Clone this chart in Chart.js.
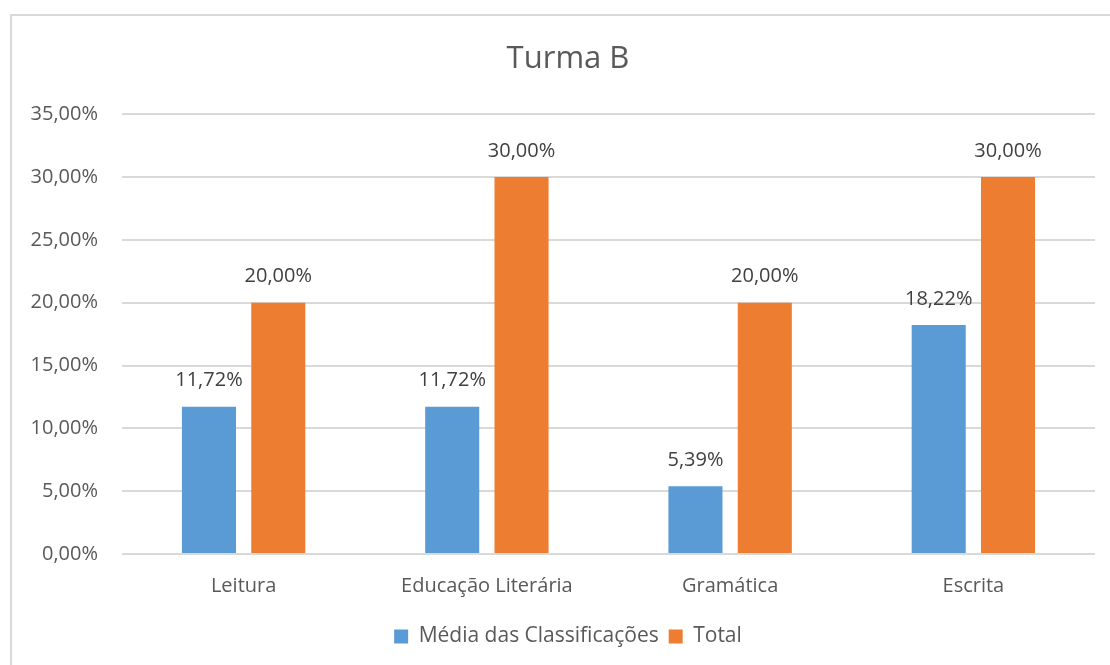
<!DOCTYPE html>
<html>
<head>
<meta charset="utf-8">
<script src="https://cdn.jsdelivr.net/npm/chart.js@4/dist/chart.umd.min.js"></script>
<style>
  html, body { margin: 0; padding: 0; background: #fff; overflow: hidden; }
  #wrap { position: relative; width: 1110px; height: 665px; overflow: hidden; }
  #frame { position: absolute; left: 10px; top: 14px; width: 1200px; height: 800px; border: 2px solid #d9d9d9; box-sizing: border-box; }
  canvas { position: absolute; left: 0; top: 0; }
</style>
</head>
<body>
<div id="wrap">
  <div id="frame"></div>
  <canvas id="chart" width="1110" height="665"></canvas>
</div>
<script>
// dados do gráfico
const categorias = ["Leitura", "Educação Literária", "Gramática", "Escrita"];
const mediaClassificacoes = [11.72, 11.72, 5.39, 18.22];
const total = [20, 30, 20, 30];
const tituloGrafico = "Turma B";

const corTexto = "#595959";
const fonte = "'Open Sans', 'DejaVu Sans', sans-serif";

function formatarPct(v) {
  return v.toFixed(2).replace(".", ",") + "%";
}

// o gráfico original é mais largo que a captura: centra título e legenda como lá
const centrarBlocos = {
  id: "centrarBlocos",
  afterLayout(chart) {
    if (chart.titleBlock) chart.titleBlock.right = 1136;
    if (chart.legend) chart.legend.right = 1136;
  },
};

// escreve o valor por cima de cada barra
const rotulosBarras = {
  id: "rotulosBarras",
  afterDatasetsDraw(chart) {
    const ctx = chart.ctx;
    ctx.save();
    ctx.font = "20px " + fonte;
    ctx.fillStyle = "#404040";
    ctx.textAlign = "center";
    ctx.textBaseline = "middle";
    chart.data.datasets.forEach((ds, i) => {
      const meta = chart.getDatasetMeta(i);
      meta.data.forEach((bar, j) => {
        ctx.fillText(formatarPct(ds.data[j]), bar.x, bar.y - 26);
      });
    });
    ctx.restore();
  },
};

new Chart(document.getElementById("chart").getContext("2d"), {
  type: "bar",
  data: {
    labels: categorias,
    datasets: [
      {
        label: "Média das Classificações",
        data: mediaClassificacoes,
        backgroundColor: "#5B9BD5",
        barPercentage: 0.78,
        categoryPercentage: 0.57,
      },
      {
        label: "Total",
        data: total,
        backgroundColor: "#ED7D31",
        barPercentage: 0.78,
        categoryPercentage: 0.57,
      },
    ],
  },
  options: {
    responsive: false,
    animation: false,
    layout: { padding: { left: 0, right: 15, top: 0, bottom: 8 } },
    plugins: {
      title: {
        display: true,
        text: tituloGrafico,
        color: corTexto,
        font: { family: fonte, size: 31, weight: "normal" },
        padding: { top: 41, bottom: 36 },
      },
      legend: {
        position: "bottom",
        labels: {
          color: corTexto,
          font: { family: fonte, size: 21 },
          boxWidth: 14,
          boxHeight: 14,
          padding: 10,
        },
      },
      tooltip: { enabled: false },
    },
    scales: {
      x: {
        afterFit(scale) {
          scale.height = 62;
        },
        grid: { display: false, drawTicks: false },
        border: { display: false },
        ticks: {
          color: corTexto,
          font: { family: fonte, size: 20 },
          padding: 20,
        },
      },
      y: {
        min: 0,
        max: 35,
        afterFit(scale) {
          scale.width = 122;
        },
        grid: { color: "#d9d9d9", lineWidth: 2, drawTicks: false },
        border: { display: false },
        ticks: {
          stepSize: 5,
          color: corTexto,
          font: { family: fonte, size: 20 },
          padding: 24,
          callback: (v) => formatarPct(v),
        },
      },
    },
  },
  plugins: [centrarBlocos, rotulosBarras],
});
</script>
</body>
</html>
